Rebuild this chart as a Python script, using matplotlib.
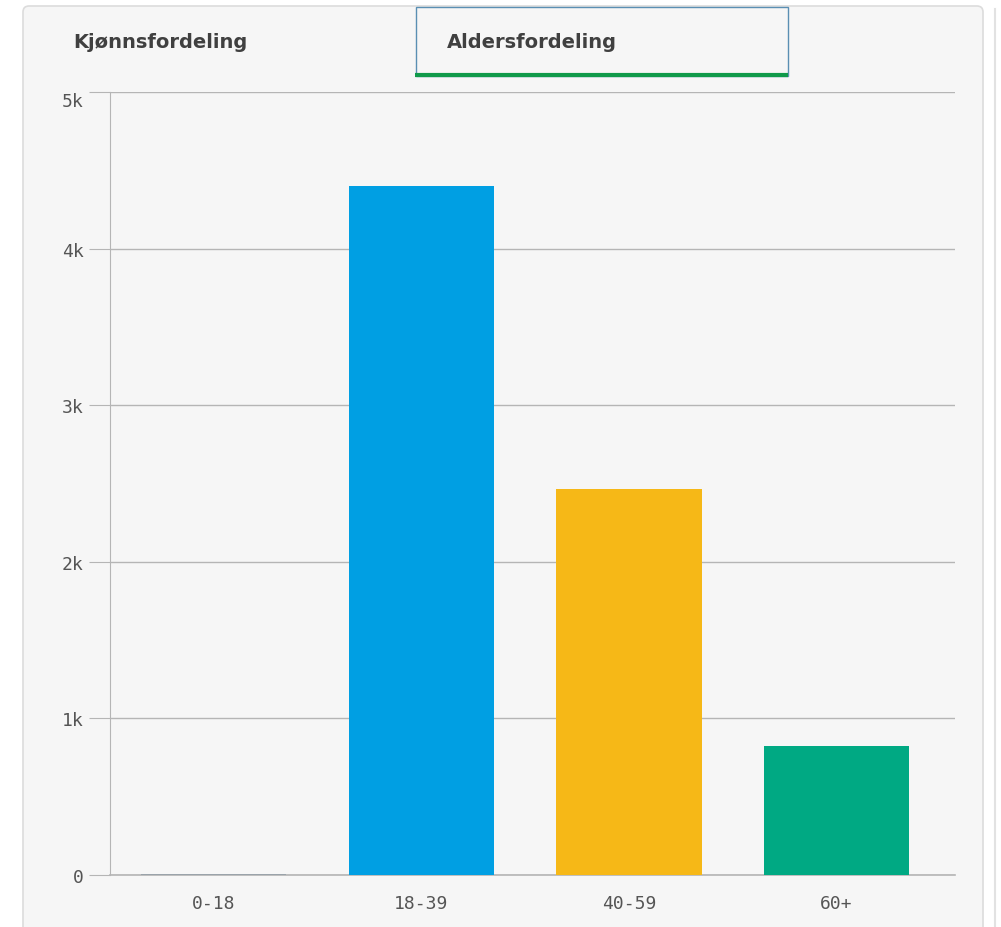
import matplotlib.pyplot as plt
from matplotlib.patches import FancyBboxPatch, Rectangle
from matplotlib.ticker import FuncFormatter

# Aldersfordeling (antall personer per aldersgruppe)
aldersgrupper = ['0-18', '18-39', '40-59', '60+']
antall = [8, 4400, 2465, 825]
farger = ['#9aa3aa', '#009fe3', '#f6b817', '#00a983']

W, H = 1001, 928
fig = plt.figure(figsize=(W / 100, H / 100), dpi=100, facecolor='white')

# Panel bakgrunn med avrundede hjørner
bg = fig.add_axes([0, 0, 1, 1])
bg.set_xlim(0, W)
bg.set_ylim(H, 0)
bg.axis('off')
bg.add_patch(FancyBboxPatch((23, 7), 960, 960, boxstyle='round,pad=0,rounding_size=6',
                            facecolor='#f6f6f6', edgecolor='#dcdcdc', lw=1.2))
bg.plot([995, 995], [10, H], color='#e2e2e2', lw=1.5)

# Faner
bg.add_patch(Rectangle((415.5, 7.5), 372.5, 69, facecolor='#f6f6f6', edgecolor='#5a8fb3', lw=1))
bg.plot([415, 788], [76, 76], color='#109a4a', lw=3, solid_capstyle='butt')
bg.text(73, 43, 'Kjønnsfordeling', fontsize=14, fontweight='bold', color='#404040',
        va='center', ha='left', family='DejaVu Sans')
bg.text(447, 43, 'Aldersfordeling', fontsize=14, fontweight='bold', color='#404040',
        va='center', ha='left', family='DejaVu Sans')

# Selve stolpediagrammet
x0, x1, ytop, ybot = 110, 955, 93, 876
ax = fig.add_axes([x0 / W, 1 - ybot / H, (x1 - x0) / W, (ybot - ytop) / H])
ax.set_facecolor('#f6f6f6')
ax.bar(range(len(aldersgrupper)), antall, width=0.7, color=farger, zorder=3)
ax.axhline(0, color='#b5b5b5', lw=1.2, zorder=2, clip_on=False)
ax.set_xlim(-0.5, 3.57)
ax.set_ylim(0, 5000)
ax.set_yticks(range(0, 5001, 1000))
ax.yaxis.set_major_formatter(FuncFormatter(lambda v, p: '0' if v == 0 else f'{int(v / 1000)}k'))
ax.set_xticks(range(len(aldersgrupper)))
ax.set_xticklabels(aldersgrupper)
ax.grid(axis='y', color='#b5b5b5', lw=1, zorder=1)
for s in ['top', 'right', 'bottom']:
    ax.spines[s].set_visible(False)
ax.spines['left'].set_color('#b5b5b5')
ax.tick_params(axis='y', length=15, color='#b5b5b5', pad=4, labelsize=13, labelcolor='#555555')
ax.tick_params(axis='x', length=0, pad=14, labelsize=13, labelcolor='#555555')
for lbl in ax.get_xticklabels() + ax.get_yticklabels():
    lbl.set_family('DejaVu Sans Mono')
ax.get_yticklabels()[-1].set_va('top')

fig.savefig('out.png', dpi=100, facecolor='white')
